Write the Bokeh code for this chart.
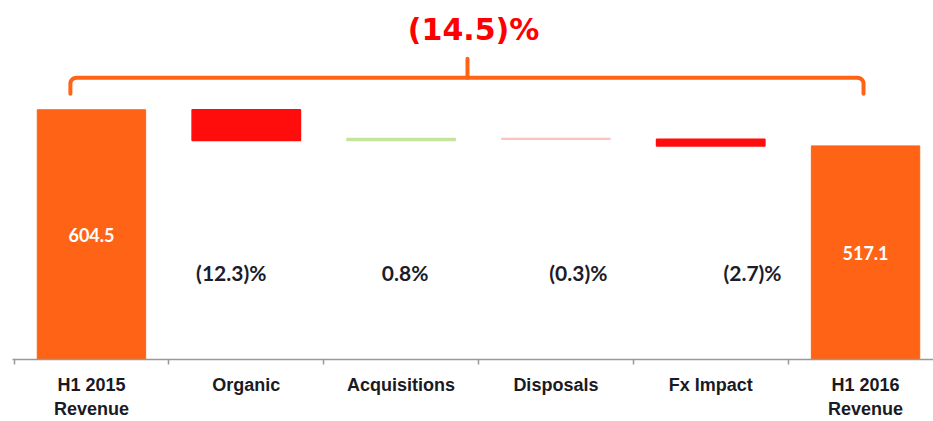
import numpy as np
from bokeh.plotting import figure
from bokeh.models import Range1d, FixedTicker, ColumnDataSource, LinearAxis
from bokeh.core.properties import value
from bokeh.embed import file_html
from bokeh.resources import INLINE

# ---- data ----
categories = ["H1 2015\nRevenue", "Organic", "Acquisitions", "Disposals", "Fx Impact", "H1 2016\nRevenue"]
start_total = 604.5
end_total = 517.1
bridge_changes = [-74.4, 4.8, -1.8, -16.0]
bridge_pct_labels = ["(12.3)%", "0.8%", "(0.3)%", "(2.7)%"]
total_labels = ["604.5", "517.1"]
overall_change_label = "(14.5)%"

# ---- styles ----
ORANGE = "#FF6316"
bridge_colors = ["#FF0D0D", "#C5E49E", "#FFC0C0", "#FF0D0D"]
pct_label_dx = [-0.097, 0.026, 0.145, 0.27]
BAR_W = 0.70
Y_END = 869.0

p = figure(width=933, height=421, output_backend="svg", toolbar_location=None,
           x_range=Range1d(-0.510, 5.439), y_range=Range1d(0, Y_END),
           x_axis_type=None, y_axis_type=None,
           min_border_left=12, min_border_right=0, min_border_top=0, min_border_bottom=0)
p.outline_line_color = None
p.xgrid.visible = False
p.ygrid.visible = False
p.background_fill_color = "white"
p.border_fill_color = "white"

# totals
tot_src = ColumnDataSource(dict(x=[0, len(categories) - 1], top=[start_total, end_total],
                                label=total_labels,
                                ymid=[start_total / 2, end_total / 2]))
p.vbar(x="x", top="top", bottom=0, width=BAR_W, source=tot_src, color=ORANGE)
p.text(x="x", y="ymid", text="label", source=tot_src, text_color="white",
       text_font=value("Lato"), text_font_style="bold", text_font_size="18px",
       text_align="center", text_baseline="middle")

# bridge
levels = np.concatenate([[start_total], start_total + np.cumsum(bridge_changes)])
bx = list(range(1, len(bridge_changes) + 1))
br_src = ColumnDataSource(dict(x=bx, bottom=levels[:-1], top=levels[1:], color=bridge_colors,
                               lx=[x + d for x, d in zip(bx, pct_label_dx)],
                               label=bridge_pct_labels))
p.vbar(x="x", bottom="bottom", top="top", width=BAR_W, source=br_src,
       fill_color="color", line_color="color", line_width=1.5)
p.text(x="lx", y=211, text="label", source=br_src, text_color="#1c1c2a",
       text_font=value("Lato"), text_font_style="bold", text_font_size="21px",
       text_align="center", text_baseline="middle")

# bracket
xl, xr, xc = -0.136, 4.987, 2.429
yb, yh, yt = 643.0, 682.0, 728.0
rx, ry = 0.04, 14.0
th = np.linspace(0, np.pi / 2, 8)
left_corner_x = xl + rx - rx * np.cos(th)
left_corner_y = yh - ry + ry * np.sin(th)
right_corner_x = xr - rx + rx * np.sin(th)
right_corner_y = yh - ry + ry * np.cos(th)
bx_path = [xl] + list(left_corner_x) + list(right_corner_x) + [xr]
by_path = [yb] + list(left_corner_y) + list(right_corner_y) + [yb]
p.line(bx_path, by_path, line_color=ORANGE, line_width=4, line_join="round", line_cap="round")
p.line([xc, xc], [yh, yt], line_color=ORANGE, line_width=4, line_cap="round")

p.text(x=[2.468], y=[798], text=[overall_change_label], text_color="#FF0000",
       text_font=value("DejaVu Sans"), text_font_style="bold", text_font_size="30px",
       text_align="center", text_baseline="middle")

# axis
ax = LinearAxis(ticker=FixedTicker(ticks=list(range(len(categories))),
                                   minor_ticks=[i - 0.5 for i in range(len(categories) + 1)]),
                major_label_overrides={i: c for i, c in enumerate(categories)},
                major_tick_line_color=None, major_tick_out=0, major_tick_in=0,
                minor_tick_out=5, minor_tick_in=0, minor_tick_line_color="#999999",
                minor_tick_line_width=1.5,
                axis_line_color="#999999", axis_line_width=1.5,
                major_label_text_font="Liberation Sans", major_label_text_font_style="bold",
                major_label_text_font_size="18px", major_label_text_color="#1a1a24",
                major_label_standoff=10)
p.add_layout(ax, "below")

open("out.html", "w").write(file_html(p, INLINE))
